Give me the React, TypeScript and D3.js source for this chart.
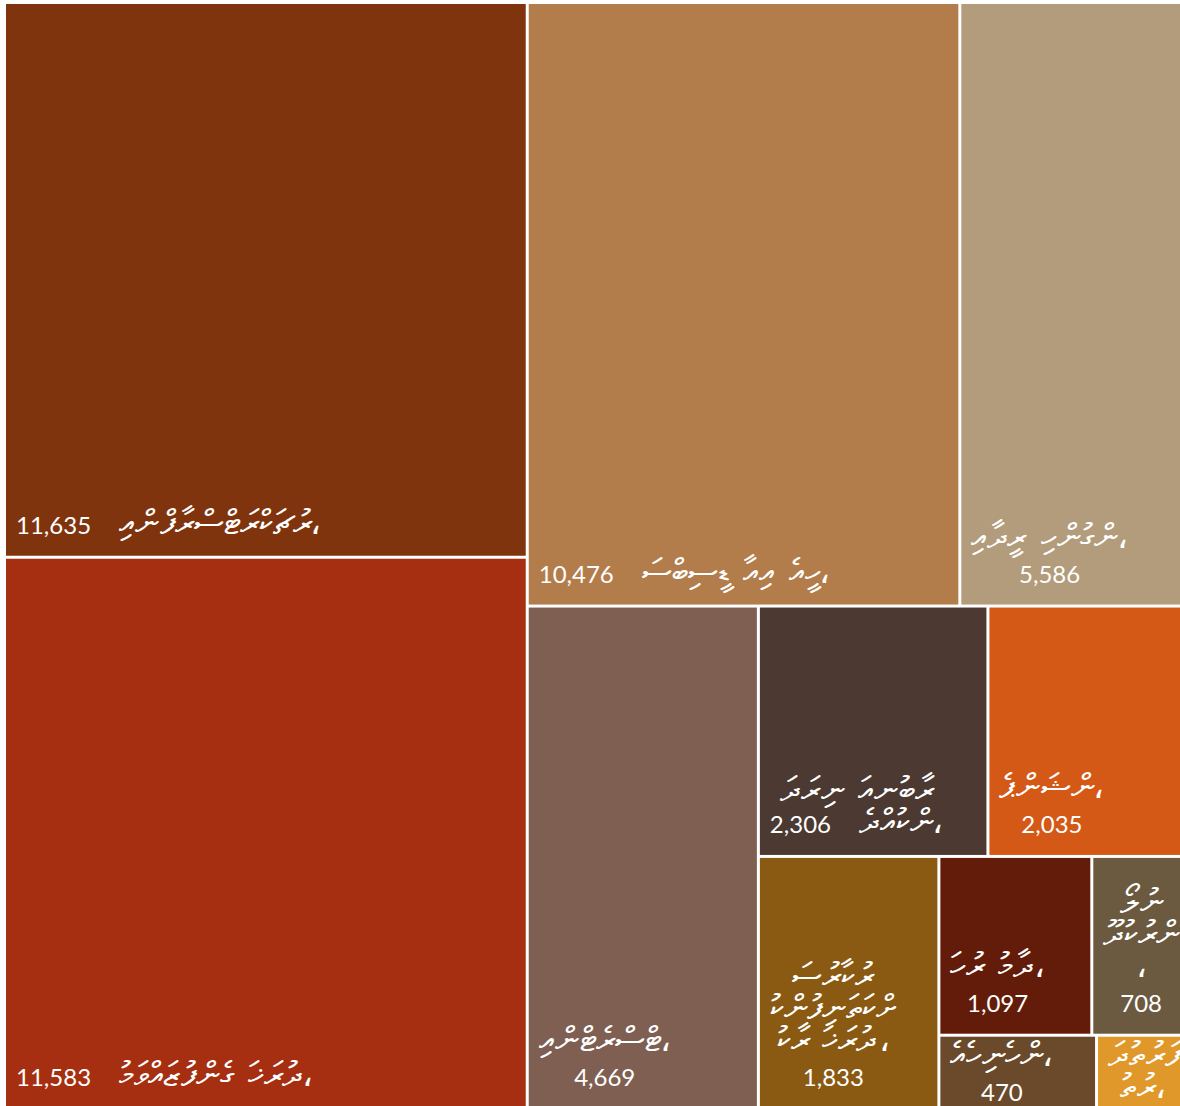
import React, { useMemo } from "react";
import * as d3 from "d3";

// Budget expenditure categories (Dhivehi) and values (millions)
const categories = [
  "އިންފްރާސްޓްރަކްޗަރު،",
  "މުވައްޒަފުންގެ ޚަރަދު،",
  "ސަބްސިޑީ އާއި އެހީ،",
  "އިދާރީ ހިންގުން،",
  "އިންޓްރެސްޓް،",
  "ދަރަނި އަނބުރާ\nދެއްކުން،",
  "ޕެންޝަން،",
  "ސަރުކާރު\nކުންފުނިތަކަށް\nކުރާ ޚަރަދު،",
  "ހަރު މުދާ،",
  "ލޯނު\nދޫކުރުން\n،",
  "އެހެނިހެން،",
  "ދަތުރުފަ\nތުރު،",
];
const values = [11635, 11583, 10476, 5586, 4669, 2306, 2035, 1833, 1097, 708, 470, 280];
const colors = [
  "#80340e",
  "#a52f10",
  "#b27d4a",
  "#b29c7b",
  "#7e5f52",
  "#4b3932",
  "#d45816",
  "#8a5a13",
  "#641c0a",
  "#6b5a40",
  "#6a4a2b",
  "#e0982a",
];
// grouping of the strips (indices into the arrays above), alternating slice/dice
const strips: any = [[0, 1], [[2, 3], [4, [[5, 6], [7, [[8, 9], [10, 11]]]]]]];

const WIDTH = 1180;
const HEIGHT = 1106;
const OX = 6;
const OY = 4;
const TW = 1183;
const TH = 1104;
const PAD = 10;
const GAP = 28;
const VALUE_FAMILY = "Lato";
const VALUE_WEIGHT = 400;
const VALUE_FONT = `${VALUE_WEIGHT} 24px Lato`;
const LABEL_FAMILY = "serif";
const LABEL_SIZE = 34;
const LABEL_FONT = `${LABEL_SIZE}px serif`;
const WORD_SPACING = 5;
const COMMA = "،";

let ctx: CanvasRenderingContext2D | null = null;
function measure(text: string, font: string): number {
  if (!ctx) ctx = document.createElement("canvas").getContext("2d");
  if (!ctx) return text.length * 12;
  ctx.font = font;
  return ctx.measureText(text).width;
}

const seg: any =
  typeof Intl !== "undefined" && (Intl as any).Segmenter
    ? new (Intl as any).Segmenter(undefined, { granularity: "grapheme" })
    : null;
function clusters(s: string): string[] {
  if (seg) return Array.from(seg.segment(s), (x: any) => x.segment as string);
  return Array.from(s);
}
// split a line into its Thaana body and a trailing comma
function splitComma(s: string): [string, string] {
  if (s.endsWith(COMMA)) return [s.slice(0, -COMMA.length), COMMA];
  return [s, ""];
}
// the reference shows the Thaana letters in left-to-right visual order:
// feeding the clusters reversed lets the bidi run flip them back
function visualOrder(s: string): string {
  return clusters(s).reverse().join("");
}
function labelWidth(s: string): number {
  const spaces = (s.match(/ /g) || []).length;
  return measure(s, LABEL_FONT) + spaces * WORD_SPACING;
}

function build(node: any): any {
  if (typeof node === "number") {
    return { name: categories[node], value: values[node], color: colors[node] };
  }
  return { children: node.map(build) };
}

type Row = { label?: string; value?: string };

function LabelLine({ text, x, y }: { text: string; x: number; y: number }) {
  const [body, comma] = splitComma(text);
  const bw = body ? labelWidth(body) : 0;
  const st = { fontFamily: LABEL_FAMILY, fontSize: LABEL_SIZE, wordSpacing: WORD_SPACING };
  return (
    <g>
      {body ? (
        <text x={x} y={y} style={st}>
          {visualOrder(body)}
        </text>
      ) : null}
      {comma ? (
        <text x={x + bw} y={y} style={st}>
          {comma}
        </text>
      ) : null}
    </g>
  );
}

export default function App() {
  const leaves = useMemo(() => {
    const root = d3.hierarchy<any>(build(strips)).sum((d: any) => d.value || 0);
    d3.treemap<any>().tile(d3.treemapSliceDice).size([TW, TH]).paddingInner(3)(root);
    return root.leaves() as any[];
  }, []);

  const fmt = d3.format(",");

  return (
    <svg
      width={WIDTH}
      height={HEIGHT}
      style={{ position: "absolute", left: 0, top: 0, display: "block", background: "#fff" }}
    >
      <defs>
        {leaves.map((l, i) => (
          <clipPath id={`clip-${i}`} key={i}>
            <rect x={OX + l.x0} y={OY + l.y0} width={l.x1 - l.x0} height={l.y1 - l.y0} />
          </clipPath>
        ))}
      </defs>
      {leaves.map((l, i) => {
        const x0 = OX + l.x0;
        const y0 = OY + l.y0;
        const x1 = OX + l.x1;
        const y1 = OY + l.y1;
        const w = x1 - x0;
        const inner = w - 2 * PAD;
        const lines: string[] = l.data.name.split("\n");
        const valStr = fmt(l.data.value);
        const vW = measure(valStr, VALUE_FONT);
        const last = lines[lines.length - 1];
        const lastW = labelWidth(last);
        const rows: Row[] = lines.map((s) => ({ label: s }));
        if (lastW + GAP + vW <= inner) {
          rows[rows.length - 1].value = valStr;
        } else {
          rows.push({ value: valStr });
        }
        const widths = rows.map((r) => {
          if (r.label && r.value) return vW + GAP + labelWidth(r.label);
          if (r.label) return labelWidth(r.label);
          return vW;
        });
        const blockW = Math.max(...widths);
        const cx = x0 + PAD + Math.min(blockW, inner) / 2;
        const bases: number[] = new Array(rows.length);
        bases[rows.length - 1] = y1 - 22;
        for (let k = rows.length - 2; k >= 0; k--) {
          const cur = rows[k + 1];
          const step = !cur.label ? 35 : 32;
          bases[k] = bases[k + 1] - step;
        }
        const minFirst = y0 + 29;
        if (bases[0] < minFirst) {
          const shift = minFirst - bases[0];
          for (let k = 0; k < bases.length; k++) bases[k] += shift;
        }
        return (
          <g key={i}>
            <rect x={x0} y={y0} width={w} height={y1 - y0} fill={l.data.color} />
            <g clipPath={`url(#clip-${i})`} fill="#fff">
              {rows.map((r, k) => {
                const left = cx - widths[k] / 2;
                return (
                  <g key={k}>
                    {r.value ? (
                      <text
                        x={left}
                        y={bases[k]}
                        style={{ fontFamily: VALUE_FAMILY, fontSize: 24, fontWeight: VALUE_WEIGHT }}
                      >
                        {r.value}
                      </text>
                    ) : null}
                    {r.label ? (
                      <LabelLine text={r.label} x={r.value ? left + vW + GAP : left} y={bases[k]} />
                    ) : null}
                  </g>
                );
              })}
            </g>
          </g>
        );
      })}
    </svg>
  );
}
